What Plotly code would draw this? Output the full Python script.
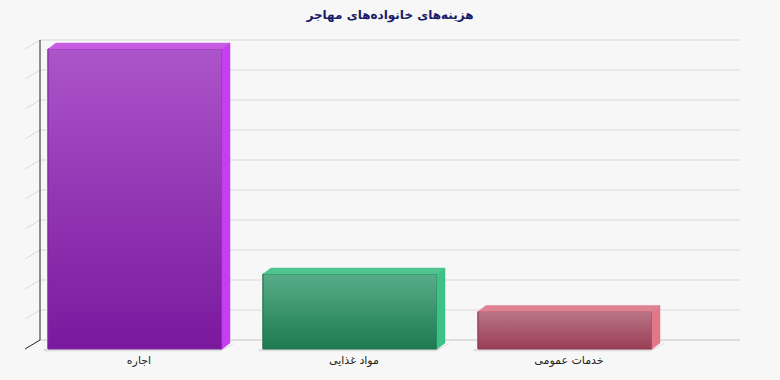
import plotly.graph_objects as go

# ---- data ----
categories = ["اجاره", "مواد غذایی", "خدمات عمومی"]
values = [40, 10, 5]
grid_max = 40
grid_step = 4
title_text = "هزینه‌های خانواده‌های مهاجر"

# ---- styles ----
front_top = ["#ac54c9", "#58ad88", "#b97585"]
front_bot = ["#7a189e", "#1d7a4f", "#9a3e57"]
top_col = ["#c75ce2", "#4fc48f", "#de8292"]
side_col = ["#c43ff0", "#3ec186", "#e0788a"]
edge_col = ["#7d2a9c", "#23704f", "#8a3a50"]
bg = "#f7f7f7"

# geometry in axis units
bar_w = 174 / 215
dxb, dyb = 8 / 215, 6 / 7.5
dxw, dyw = 15 / 215, 9 / 7.5
x_wall_front = -110 / 215
x_wall_right = 605 / 215

fig = go.Figure()

# back wall gridlines
gx, gy = [], []
v = grid_step
while v <= grid_max:
    gx += [x_wall_front, x_wall_front + dxw, x_wall_right, None]
    gy += [v, v + dyw, v + dyw, None]
    v += grid_step
fig.add_trace(go.Scatter(x=gx, y=gy, mode="lines",
                         line=dict(color="#d9d9d9", width=1), hoverinfo="skip"))
# baseline on the wall
fig.add_trace(go.Scatter(x=[x_wall_front + dxw, x_wall_right], y=[dyw, dyw], mode="lines",
                         line=dict(color="#c4c4c4", width=1), hoverinfo="skip"))
# axis line and floor edge
fig.add_trace(go.Scatter(x=[x_wall_front, x_wall_front + dxw, x_wall_front + dxw],
                         y=[0, dyw, grid_max + dyw], mode="lines",
                         line=dict(color="#222222", width=1), hoverinfo="skip"))

xs = list(range(len(categories)))
for i, val in enumerate(values):
    l, r = xs[i] - bar_w / 2, xs[i] + bar_w / 2
    # floor shadow
    fig.add_trace(go.Scatter(
        x=[l - 0.02, r - 0.005, r + dxb + 0.02, r + dxb + 0.02, r, l - 0.02],
        y=[-0.3, -0.3, dyb - 0.1, dyb, 0, 0],
        fill="toself", fillcolor="#dedede", mode="lines",
        line=dict(width=0), hoverinfo="skip"))

# front faces as real bars
fig.add_trace(go.Bar(x=xs, y=values, width=bar_w, marker=dict(color=front_top, line=dict(color=edge_col, width=1)),
                     hoverinfo="x+y"))

for i, val in enumerate(values):
    l, r = xs[i] - bar_w / 2, xs[i] + bar_w / 2
    # gradient front
    fig.add_trace(go.Scatter(
        x=[l, r, r, l, l], y=[0, 0, val, val, 0], mode="lines",
        fill="toself",
        fillgradient=dict(type="vertical",
                          colorscale=[[0, front_bot[i]], [1, front_top[i]]]),
        line=dict(color=edge_col[i], width=1), hoverinfo="skip"))
    # top face
    fig.add_trace(go.Scatter(
        x=[l, l + dxb, r + dxb, r, l], y=[val, val + dyb, val + dyb, val, val],
        fill="toself", fillcolor=top_col[i], mode="lines",
        line=dict(color=top_col[i], width=0.5), hoverinfo="skip"))
    # side face
    fig.add_trace(go.Scatter(
        x=[r, r, r + dxb, r + dxb, r], y=[0, val, val + dyb, dyb, 0],
        fill="toself", fillcolor=side_col[i], mode="lines",
        line=dict(color=side_col[i], width=0.5), hoverinfo="skip"))

fig.update_layout(
    width=780, height=380,
    margin=dict(l=25, r=32, t=34, b=28),
    paper_bgcolor=bg, plot_bgcolor=bg,
    showlegend=False,
    barmode="overlay",
    title=dict(text="<b>" + title_text + "</b>", x=0.5, xanchor="center", y=0.96, yanchor="middle",
               font=dict(family="DejaVu Sans", size=12, color="#1b1b6b")),
    xaxis=dict(range=[-110 / 215, -110 / 215 + 723 / 215], showgrid=False, zeroline=False,
               showline=False, tickmode="array",
               tickvals=[x + dxb / 2 for x in xs], ticktext=categories,
               ticks="", tickfont=dict(family="DejaVu Sans", size=11, color="#222222")),
    yaxis=dict(range=[-0.4, 42], showgrid=False, zeroline=False, showline=False,
               showticklabels=False),
)

fig.write_html("out.html")
